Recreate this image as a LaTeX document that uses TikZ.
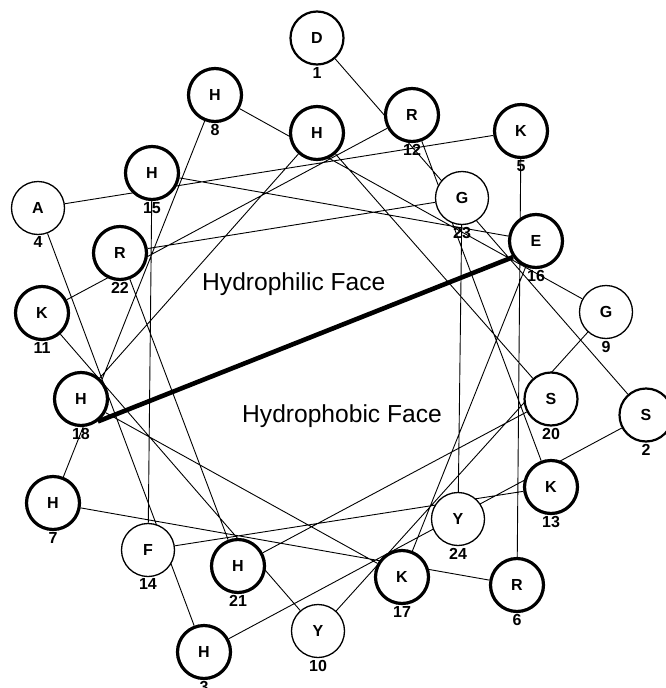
\documentclass[tikz,border=0pt]{standalone}
\usepackage{fontspec}
\setmainfont{Liberation Sans}
\usepackage{tikz}
\usetikzlibrary{backgrounds}

\begin{document}
\begin{tikzpicture}[x=1pt, y=-1pt,
    res/.style={circle, draw, fill=white, minimum size=53pt, inner sep=0pt,
        font=\fontsize{16}{19}\selectfont\bfseries, label distance=0pt},
    resthin/.style={res, line width=1.3pt},
    resmid/.style={res, line width=2.2pt},
    resthick/.style={res, line width=3.2pt},
    every label/.style={font=\fontsize{16}{19}\selectfont\bfseries, inner sep=1.5pt}]
    % Page frame
    \useasboundingbox (0,0) rectangle (665,688);

    % Residues of the wheel
    \node[resmid, label=below:1] (r1) at (317,38) {D};
    \node[resmid, label=below:2] (r2) at (646,415) {S};
    \node[resthick, label=below:3] (r3) at (204,652) {H};
    \node[resthin, label=below:4] (r4) at (38,208) {A};
    \node[resthick, label=below:5] (r5) at (521,131) {K};
    \node[resthick, label=below:6] (r6) at (517,585) {R};
    \node[resthick, label=below:7] (r7) at (53,503) {H};
    \node[resthick, label=below:8] (r8) at (215,95) {H};
    \node[resthin, label=below:9] (r9) at (606,312) {G};
    \node[resthin, label=below:10] (r10) at (318,631) {Y};
    \node[resthick, label=below:11] (r11) at (42,313) {K};
    \node[resthick, label=below:12] (r12) at (412,115) {R};
    \node[resthick, label=below:13] (r13) at (551,487) {K};
    \node[resthin, label=below:14] (r14) at (148,550) {F};
    \node[resthick, label=below:15] (r15) at (152,173) {H};
    \node[resthick, label=below:16] (r16) at (536,241) {E};
    \node[resthick, label=below:17] (r17) at (402,577) {K};
    \node[resthick, label=below:18] (r18) at (81,399) {H};
    \node[resthick] (r19) at (317,133) {H};
    \node[resmid, label=below:20] (r20) at (551,399) {S};
    \node[resthick, label=below:21] (r21) at (238,566) {H};
    \node[resthick, label=below:22] (r22) at (120,253) {R};
    \node[resthin, label=below:23] (r23) at (462,198) {G};
    \node[resthin, label=below:24] (r24) at (458,519) {Y};

    % Backbone, behind the circles
    \begin{pgfonlayer}{background}
        \draw[line width=0.9pt] (r1) -- (r2) (r2) -- (r3) (r3) -- (r4)
            (r4) -- (r5) (r5) -- (r6) (r6) -- (r7) (r7) -- (r8)
            (r8) -- (r9) (r9) -- (r10) (r10) -- (r11) (r11) -- (r12)
            (r12) -- (r13) (r13) -- (r14) (r14) -- (r15) (r15) -- (r16)
            (r16) -- (r17) (r17) -- (r18) (r18) -- (r19) (r19) -- (r20)
            (r20) -- (r21) (r21) -- (r22) (r22) -- (r23) (r23) -- (r24);
    \end{pgfonlayer}

    % Dividing line between the faces
    \draw[line width=4.6pt] (r18.-53) -- (r16.-145);

    % Face labels
    \node[font=\fontsize{24.6}{29}\selectfont, anchor=base west, inner sep=0pt] (philic) at (202,290) {Hydrophilic Face};
    \node[font=\fontsize{24.6}{29}\selectfont, anchor=base west, inner sep=0pt] (phobic) at (242,422) {Hydrophobic Face};
\end{tikzpicture}
\end{document}
